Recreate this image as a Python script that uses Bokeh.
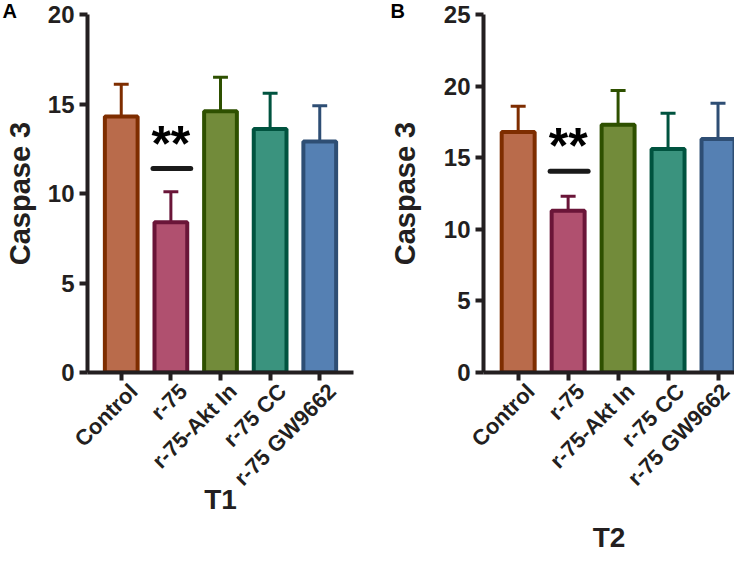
import math
from bokeh.plotting import figure
from bokeh.layouts import row
from bokeh.models import FixedTicker, Label, ColumnDataSource, LinearAxis
from bokeh.embed import file_html
from bokeh.resources import INLINE

# ---- data ----
categories = ["Control", "r-75", "r-75-Akt In", "r-75 CC", "r-75 GW9662"]
t1_means = [14.3, 8.4, 14.6, 13.6, 12.9]
t1_sd = [1.8, 1.7, 1.9, 2.0, 2.0]
t2_means = [16.8, 11.3, 17.3, 15.6, 16.3]
t2_sd = [1.8, 1.0, 2.4, 2.5, 2.5]
t1_yticks = [0, 5, 10, 15, 20]
t2_yticks = [0, 5, 10, 15, 20, 25]
sig_text = "**"

fill_colors = ["#B96B4B", "#B0506F", "#728B3A", "#3A937E", "#5580B3"]
line_colors = ["#7E2D00", "#6A1538", "#2E5000", "#00533F", "#2E4E74"]
AX = "#231F20"
FONT = "Liberation Sans"
LABEL_SHIFT = 0.25  # category labels sit a little right of their tick


def style_axis(ax):
    ax.axis_line_width = 4
    ax.axis_line_color = AX
    ax.major_tick_line_width = 4
    ax.major_tick_line_color = AX
    ax.major_tick_out = 8
    ax.major_tick_in = 0
    ax.minor_tick_line_color = None
    ax.major_label_text_font = FONT
    ax.major_label_text_font_style = "bold"
    ax.major_label_text_color = AX
    ax.axis_label_text_font = FONT
    ax.axis_label_text_font_style = "bold"
    ax.axis_label_text_color = AX


def panel(means, sds, yticks, xlabel, letter, letter_dx, x_start, x_end, width, height,
          mb_left, mb_right, mb_top, mb_bottom, star_y, bar_y, xlab_standoff,
          ylab_standoff):
    xs = list(range(len(categories)))
    ymax = yticks[-1]
    p = figure(width=width, height=height, x_range=(x_start, x_end), y_range=(0, ymax),
               output_backend="svg", toolbar_location=None, x_axis_location=None,
               min_border_left=mb_left, min_border_right=mb_right,
               min_border_top=mb_top, min_border_bottom=mb_bottom)
    p.outline_line_color = None
    p.grid.grid_line_color = None
    p.background_fill_color = "white"
    p.border_fill_color = "white"

    # panel letter as the figure title, pulled to the top-left corner
    p.title.text = letter
    p.title.align = "left"
    p.title.offset = letter_dx - mb_left
    p.title.standoff = -14
    p.title.text_font = FONT
    p.title.text_font_style = "bold"
    p.title.text_font_size = "20px"
    p.title.text_color = "black"

    tops = [m + s for m, s in zip(means, sds)]
    src = ColumnDataSource(dict(x=xs, m=means, top=tops,
                                x0=[x - 0.15 for x in xs], x1=[x + 0.15 for x in xs],
                                fc=fill_colors, lc=line_colors))
    p.segment(x0="x", y0="m", x1="x", y1="top", line_color="lc", line_width=3, source=src)
    p.segment(x0="x0", y0="top", x1="x1", y1="top", line_color="lc", line_width=3, source=src)
    p.vbar(x="x", top="m", bottom=0, width=0.66, fill_color="fc", line_color="lc",
           line_width=4, source=src)

    # significance mark over r-75
    p.add_layout(Label(x=1, y=star_y, text=sig_text, text_align="center",
                       text_baseline="middle", text_font=FONT, text_font_style="bold",
                       text_font_size="50px", text_color="black"))
    p.segment(x0=[0.64], y0=[bar_y], x1=[1.4], y1=[bar_y], line_color="#1a1a1a",
              line_width=5, line_cap="round")

    # x axis: tick marks at bar centres (labels not drawn)
    ax_ticks = LinearAxis(ticker=FixedTicker(ticks=xs), major_label_text_font_size="1px",
                          major_label_standoff=0,
                          major_label_overrides={x: " " for x in xs})
    style_axis(ax_ticks)
    ax_ticks.major_label_text_color = None
    p.add_layout(ax_ticks, "below")

    # x axis: category labels, slightly offset right of the ticks
    label_pos = [x + LABEL_SHIFT for x in xs]
    ax_lab = LinearAxis(ticker=FixedTicker(ticks=label_pos),
                        major_label_overrides={lp: c for lp, c in zip(label_pos, categories)},
                        major_label_orientation=math.pi / 4,
                        major_label_text_font_size="22px", major_label_standoff=7,
                        axis_label=xlabel, axis_label_standoff=xlab_standoff,
                        axis_label_text_font_size="28px")
    style_axis(ax_lab)
    ax_lab.axis_line_color = None
    ax_lab.major_tick_line_color = None
    ax_lab.major_tick_out = 0
    p.add_layout(ax_lab, "below")

    p.yaxis.ticker = FixedTicker(ticks=yticks)
    p.yaxis.major_label_text_font_size = "24px"
    p.yaxis.axis_label = "Caspase 3"
    p.yaxis.axis_label_text_font_size = "29px"
    p.yaxis.axis_label_standoff = ylab_standoff
    p.yaxis.major_label_standoff = 5
    style_axis(p.yaxis[0])
    return p


pa = panel(t1_means, t1_sd, t1_yticks, "T1", "A", 0, -0.68, 4.68, 356, 556,
           85, 3, 14, 180, 12.75, 11.4, -18, 9)
pb = panel(t2_means, t2_sd, t2_yticks, "T2", "B", 34, -0.694, 4.33, 378, 556,
           127, 0, 14, 180, 15.8, 14.05, 20, 20)

layout = row(pa, pb)
open("out.html", "w").write(file_html(layout, INLINE))
